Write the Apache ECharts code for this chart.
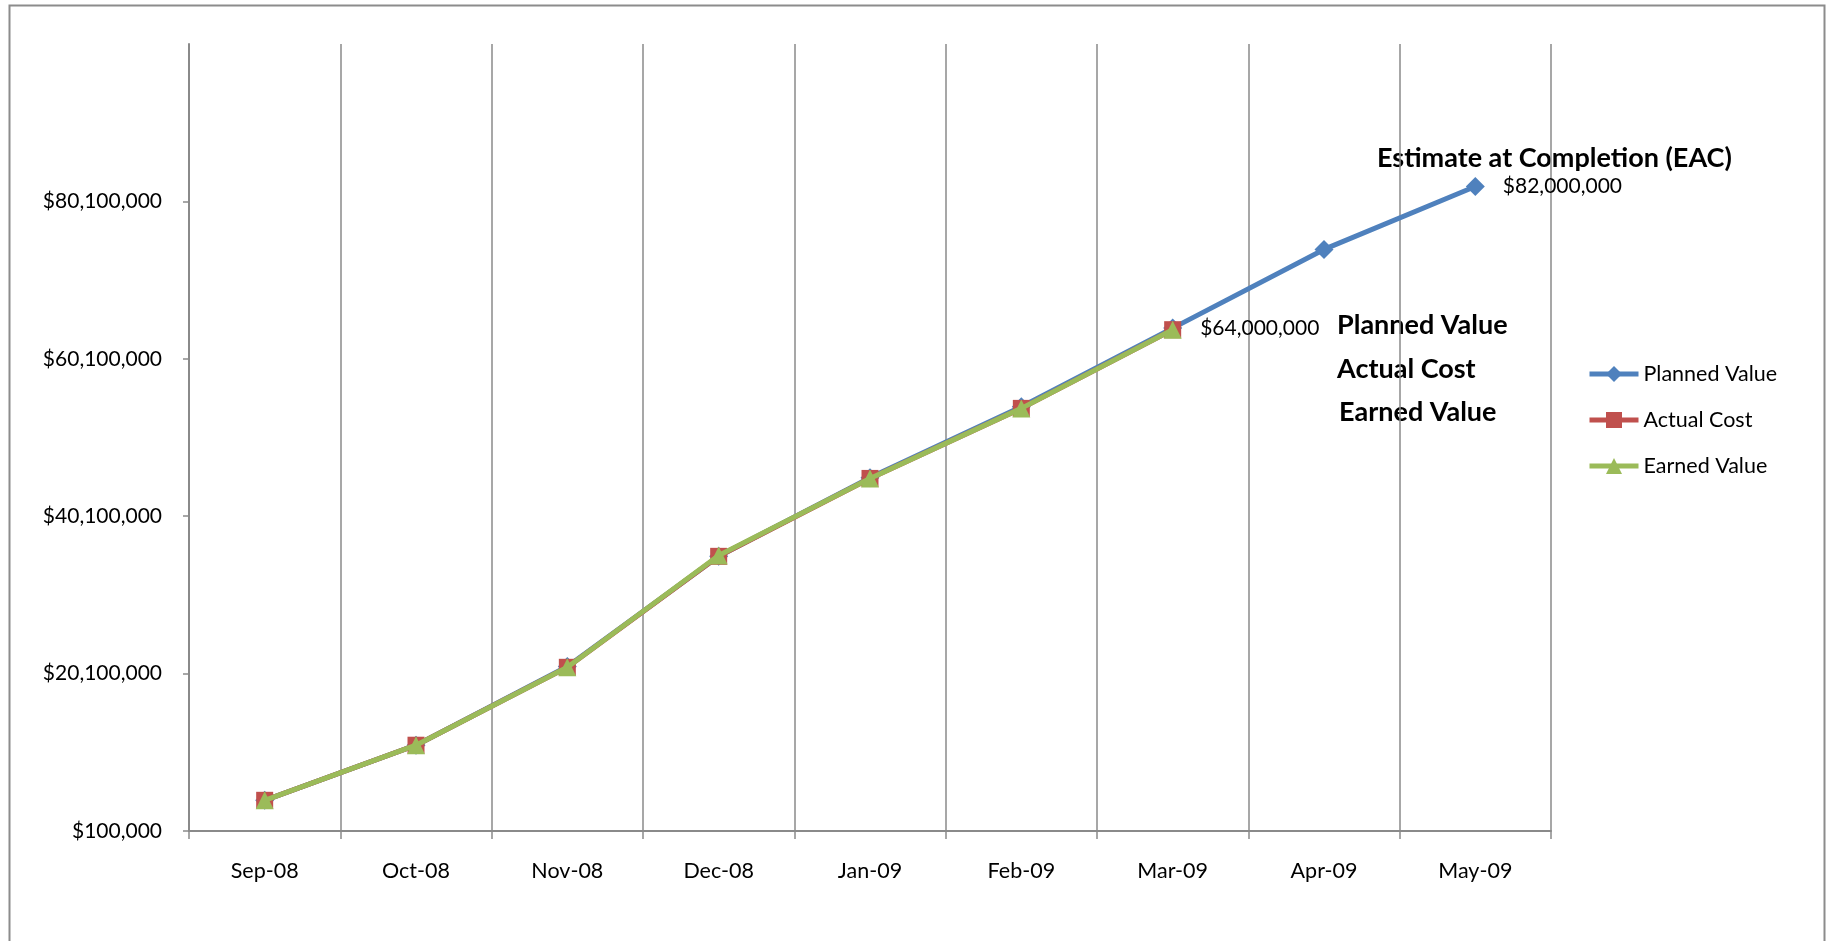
<!DOCTYPE html>
<html>
<head>
<meta charset="utf-8">
<title>Earned Value Chart</title>
<script src="https://cdn.jsdelivr.net/npm/echarts@6/dist/echarts.min.js"></script>
<style>
  html, body { margin: 0; padding: 0; background: #ffffff; }
  #chart { width: 1826px; height: 941px; }
</style>
</head>
<body>
<div id="chart"></div>
<script>
// Monthly project cost data (USD)
const categories = ['Sep-08', 'Oct-08', 'Nov-08', 'Dec-08', 'Jan-09', 'Feb-09', 'Mar-09', 'Apr-09', 'May-09'];
const seriesNames = ['Planned Value', 'Actual Cost', 'Earned Value'];
const plannedValue = [4000000, 11000000, 21000000, 35000000, 45000000, 54000000, 64000000, 74000000, 82000000];
const actualCost   = [4000000, 11000000, 20900000, 35000000, 44900000, 53800000, 63800000];
const earnedValue  = [4000000, 11000000, 20900000, 35100000, 44900000, 53800000, 63800000];
// Value-axis ticks and extent
const yTicks = [100000, 20100000, 40100000, 60100000, 80100000];
const yMin = 100000;
const yMax = 100100000;
const yStep = 20000000;
// Points on the planned line that carry a value label
const labelledMonths = ['Mar-09', 'May-09'];
const eacTitle = 'Estimate at Completion (EAC)';

const FONT = 'Lato, "Open Sans", "Noto Sans", sans-serif';
const GRID_GRAY = '#8a8a8a';
const LINE_W = 5;
const money = v => '$' + Number(v).toLocaleString('en-US');

const plannedData = plannedValue.map((v, i) => {
  if (labelledMonths.indexOf(categories[i]) < 0) return v;
  return {
    value: v,
    label: {
      show: true, position: 'right', distance: 18,
      formatter: p => money(p.value),
      fontFamily: FONT, fontSize: 21, color: '#000'
    }
  };
});

const chart = echarts.init(document.getElementById('chart'), null, { renderer: 'canvas' });

chart.setOption({
  backgroundColor: '#ffffff',
  animation: false,
  grid: { left: 189, right: 275, top: 44, bottom: 110, containLabel: false },
  legend: {
    orient: 'vertical',
    left: 1582, top: 358,
    itemWidth: 49, itemHeight: 20, itemGap: 24,
    lineStyle: { width: LINE_W },
    textStyle: { fontFamily: FONT, fontSize: 21.5, color: '#000' },
    data: seriesNames
  },
  xAxis: {
    type: 'category',
    data: categories,
    boundaryGap: true,
    axisLine: { show: true, lineStyle: { color: GRID_GRAY, width: 2 } },
    axisTick: { show: true, length: 8, lineStyle: { color: GRID_GRAY, width: 1.5 } },
    axisLabel: { margin: 29, fontFamily: FONT, fontSize: 21.5, color: '#000' },
    splitLine: { show: true, lineStyle: { color: GRID_GRAY, width: 1.5 } }
  },
  yAxis: {
    type: 'value',
    min: yMin, max: yMax, interval: yStep,
    axisLine: { show: true, lineStyle: { color: GRID_GRAY, width: 2 } },
    axisTick: { show: true, length: 6, customValues: yTicks, lineStyle: { color: GRID_GRAY, width: 1.5 } },
    axisLabel: { margin: 27, fontFamily: FONT, fontSize: 21, color: '#000',
                 customValues: yTicks, formatter: v => money(v) },
    splitLine: { show: false }
  },
  graphic: [
    { type: 'rect', silent: true, z: -10,
      shape: { x: 9.5, y: 5.5, width: 1815, height: 1000 },
      style: { fill: 'none', stroke: '#8c8c8c', lineWidth: 2 } },
    { type: 'text', left: 1377, top: 145,
      style: { text: eacTitle, font: 'bold 27px ' + FONT, fill: '#000' } },
    { type: 'text', left: 1337, top: 312,
      style: { text: seriesNames[0], font: 'bold 27px ' + FONT, fill: '#000' } },
    { type: 'text', left: 1337, top: 356,
      style: { text: seriesNames[1], font: 'bold 27px ' + FONT, fill: '#000' } },
    { type: 'text', left: 1339, top: 399,
      style: { text: seriesNames[2], font: 'bold 27px ' + FONT, fill: '#000' } }
  ],
  series: [
    {
      name: seriesNames[0], type: 'line', data: plannedData,
      symbol: 'diamond', symbolSize: 19,
      lineStyle: { color: '#4F81BD', width: LINE_W },
      itemStyle: { color: '#4F81BD' }, z: 2
    },
    {
      name: seriesNames[1], type: 'line', data: actualCost,
      symbol: 'rect', symbolSize: 17,
      lineStyle: { color: '#C0504D', width: LINE_W },
      itemStyle: { color: '#C0504D' }, z: 3
    },
    {
      name: seriesNames[2], type: 'line', data: earnedValue,
      symbol: 'triangle', symbolSize: 18,
      lineStyle: { color: '#9BBB59', width: LINE_W },
      itemStyle: { color: '#9BBB59' }, z: 4
    }
  ]
});
</script>
</body>
</html>
